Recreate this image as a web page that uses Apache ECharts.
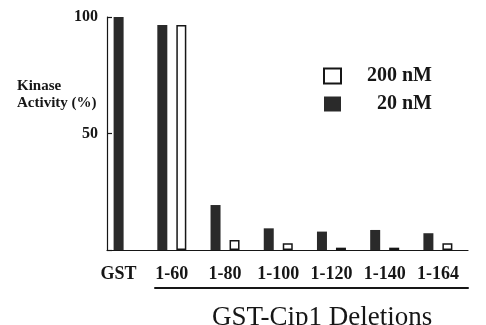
<!DOCTYPE html>
<html>
<head>
<meta charset="utf-8">
<script src="https://cdn.jsdelivr.net/npm/echarts@6/dist/echarts.min.js"></script>
<style>
html,body{margin:0;padding:0;background:#fff;}
#chart{width:486px;height:325px;}
</style>
</head>
<body>
<div id="chart"></div>
<script>
const categories = ['GST', '1-60', '1-80', '1-100', '1-120', '1-140', '1-164'];
const values20nM = [100, 96.6, 19.3, 9.3, 7.9, 8.6, 7.2];
const values200nM = [null, 96.6, 4.3, 2.9, 1.0, 1.0, 2.9];
const yTickLabels = ['', '50', '100'];
const legendNames = ['200 nM', '20 nM'];
const yLabel = 'Kinase\nActivity (%)';
const xTitle = 'GST-Cip1 Deletions';

const SERIF = '"Liberation Serif", "Times New Roman", serif';
const INK = '#161616';
const DARK = '#2a2a2a';

const chart = echarts.init(document.getElementById('chart'), null, {renderer: 'canvas'});

const option = {
  backgroundColor: '#ffffff',
  animation: false,
  title: [
    {
      text: yLabel, left: 12, top: 73,
      textStyle: {fontFamily: SERIF, fontSize: 15, fontWeight: 'bold', color: INK, lineHeight: 17}
    },
    {
      text: xTitle, left: 207, top: 299,
      textStyle: {fontFamily: SERIF, fontSize: 27, fontWeight: 'normal', color: INK}
    }
  ],
  legend: {
    data: legendNames,
    orient: 'vertical',
    left: 323, top: 66, padding: 0,
    itemWidth: 17, itemHeight: 15, itemGap: 8,
    icon: 'rect',
    formatter: function (n) { return '{a|' + n + '}'; },
    textStyle: {
      rich: {a: {width: 86, align: 'right', lineHeight: 18, fontFamily: SERIF, fontSize: 20, fontWeight: 'bold', color: INK}}
    }
  },
  grid: [
    {left: 92, right: 21.5, top: 17, bottom: 75},
    {left: 107, right: 18, top: 17, bottom: 75},
    {left: 155, right: 18, top: 17, bottom: 75}
  ],
  xAxis: [
    {
      type: 'category', gridIndex: 0, data: categories,
      axisLine: {show: false}, axisTick: {show: false},
      axisLabel: {interval: 0, margin: 15, fontFamily: SERIF, fontSize: 18, fontWeight: 'bold', color: INK}
    },
    {type: 'category', gridIndex: 0, data: categories, show: false},
    {
      type: 'value', gridIndex: 1, min: 0, max: 1,
      axisLine: {show: true, onZero: false, lineStyle: {color: INK, width: 1.2}},
      axisTick: {show: false}, axisLabel: {show: false}, splitLine: {show: false}
    },
    {
      type: 'value', gridIndex: 2, min: 0, max: 1, offset: 38, position: 'bottom',
      axisLine: {show: true, onZero: false, lineStyle: {color: INK, width: 2}},
      axisTick: {show: false}, axisLabel: {show: false}, splitLine: {show: false}
    }
  ],
  yAxis: [
    {type: 'value', gridIndex: 0, min: 0, max: 100, show: false},
    {
      type: 'value', gridIndex: 1, min: 0, max: 100, interval: 50,
      axisLine: {show: true, lineStyle: {color: INK, width: 1.2}},
      axisTick: {show: true, inside: true, length: 5, lineStyle: {color: INK, width: 1.2}},
      splitLine: {show: false},
      axisLabel: {
        margin: 9, fontFamily: SERIF, fontSize: 16, fontWeight: 'bold', color: INK,
        formatter: function (v) { return yTickLabels[Math.round(v / 50)]; }
      }
    },
    {type: 'value', gridIndex: 2, min: 0, max: 100, show: false}
  ],
  series: [
    {
      name: '20 nM', type: 'bar', xAxisIndex: 0, yAxisIndex: 0,
      data: values20nM.map(function (v, i) { return i === 0 ? null : v; }),
      barWidth: 10, barGap: '90%',
      itemStyle: {color: DARK}
    },
    {
      name: '200 nM', type: 'bar', xAxisIndex: 0, yAxisIndex: 0,
      data: values200nM,
      barWidth: 10, barGap: '90%',
      itemStyle: {color: '#ffffff', borderColor: INK, borderWidth: 1.5}
    },
    {
      name: 'GST', type: 'bar', xAxisIndex: 1, yAxisIndex: 0,
      data: values20nM.map(function (v, i) { return i === 0 ? v : null; }),
      barWidth: 10,
      itemStyle: {color: DARK}
    }
  ]
};
chart.setOption(option);
</script>
</body>
</html>
